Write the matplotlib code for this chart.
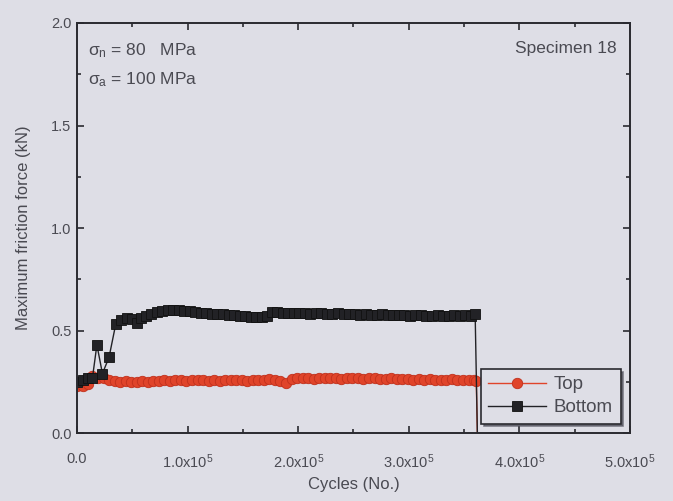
import matplotlib.pyplot as plt
from matplotlib.ticker import MultipleLocator, FuncFormatter

plt.rcParams['font.family'] = ['Liberation Sans', 'DejaVu Sans']
plt.rcParams['mathtext.fontset'] = 'custom'
plt.rcParams['mathtext.rm'] = 'Liberation Sans'
plt.rcParams['mathtext.it'] = 'Liberation Sans'

# Bottom specimen friction force
bottom_cycles = [0, 5000, 10000, 14000, 18000, 23000, 29000, 35000, 40000, 45000,
                 50000, 54000, 58000, 62000, 67000, 72000, 77000, 82000, 87000, 92000,
                 97000, 102000, 107000, 112000, 117000, 122000, 127000, 132000, 137000, 142000,
                 147000, 152000, 157000, 162000, 167000, 172000, 176000, 181000, 186000, 191000,
                 196000, 201000, 206000, 211000, 216000, 221000, 226000, 231000, 236000, 241000,
                 246000, 251000, 256000, 261000, 266000, 271000, 276000, 281000, 286000, 291000,
                 296000, 301000, 306000, 311000, 316000, 321000, 326000, 331000, 336000, 341000,
                 346000, 351000, 356000, 360000, 362000]
bottom_force = [0.25, 0.26, 0.27, 0.27, 0.43, 0.29, 0.37, 0.53, 0.55, 0.56,
                0.555, 0.535, 0.56, 0.57, 0.58, 0.59, 0.595, 0.60, 0.60, 0.60,
                0.595, 0.595, 0.59, 0.585, 0.585, 0.58, 0.58, 0.58, 0.575, 0.575,
                0.57, 0.57, 0.565, 0.565, 0.565, 0.57, 0.59, 0.59, 0.585, 0.585,
                0.585, 0.585, 0.585, 0.58, 0.585, 0.585, 0.58, 0.58, 0.585, 0.58,
                0.58, 0.58, 0.575, 0.58, 0.575, 0.575, 0.58, 0.575, 0.575, 0.575,
                0.575, 0.57, 0.575, 0.575, 0.57, 0.57, 0.575, 0.57, 0.57, 0.575,
                0.57, 0.575, 0.57, 0.58, 0.0]

# Top specimen friction force
top_cycles = [0, 5000, 10000, 14000, 19000, 24000, 29000, 34000, 39000, 44000,
              49000, 54000, 59000, 64000, 69000, 74000, 79000, 84000, 89000, 94000,
              99000, 104000, 109000, 114000, 119000, 124000, 129000, 134000, 139000, 144000,
              149000, 154000, 159000, 164000, 169000, 174000, 179000, 184000, 189000, 194000,
              199000, 204000, 209000, 214000, 219000, 224000, 229000, 234000, 239000, 244000,
              249000, 254000, 259000, 264000, 269000, 274000, 279000, 284000, 289000, 294000,
              299000, 304000, 309000, 314000, 319000, 324000, 329000, 334000, 339000, 344000,
              349000, 354000, 359000, 361000, 362000]
top_force = [0.23, 0.23, 0.24, 0.28, 0.27, 0.27, 0.26, 0.255, 0.25, 0.255,
             0.25, 0.25, 0.255, 0.25, 0.255, 0.255, 0.26, 0.255, 0.26, 0.26,
             0.255, 0.26, 0.26, 0.26, 0.255, 0.26, 0.255, 0.26, 0.26, 0.26,
             0.26, 0.255, 0.26, 0.26, 0.26, 0.265, 0.26, 0.255, 0.245, 0.265,
             0.27, 0.27, 0.27, 0.265, 0.27, 0.27, 0.27, 0.27, 0.265, 0.27,
             0.27, 0.27, 0.265, 0.27, 0.27, 0.265, 0.265, 0.27, 0.265, 0.265,
             0.265, 0.26, 0.265, 0.26, 0.265, 0.26, 0.26, 0.26, 0.265, 0.26,
             0.26, 0.26, 0.26, 0.255, 0.0]

bg = '#dedee6'
ink = '#2a2a30'
txt = '#4a4a52'

fig = plt.figure(figsize=(6.73, 5.01), dpi=100, facecolor=bg)
ax = fig.add_axes([0.1144, 0.1357, 0.8217, 0.8184], facecolor=bg)

# last sample is the drop to zero at failure: line only, no marker
ax.plot(top_cycles, top_force, color='#e0442a', marker='o', markersize=7.5,
        markeredgecolor='#c0301c', markeredgewidth=0.6, linewidth=1.0,
        markevery=slice(0, len(top_cycles) - 1), label='Top')
ax.plot(bottom_cycles, bottom_force, color='#222226', marker='s', markersize=7,
        markeredgecolor='#111111', markeredgewidth=0.6, linewidth=1.0,
        markevery=slice(0, len(bottom_cycles) - 1), label='Bottom')

ax.set_xlim(0, 5e5)
ax.set_ylim(0, 2.0)
ax.xaxis.set_major_locator(MultipleLocator(1e5))
ax.xaxis.set_minor_locator(MultipleLocator(5e4))
ax.yaxis.set_major_locator(MultipleLocator(0.5))
ax.yaxis.set_minor_locator(MultipleLocator(0.25))


def sci_label(v, pos):
    if v == 0:
        return '0.0'
    return '%.1fx10$^{5}$' % (v / 1e5)


ax.xaxis.set_major_formatter(FuncFormatter(sci_label))
ax.yaxis.set_major_formatter(FuncFormatter(lambda v, p: '%.1f' % v))

ax.tick_params(which='both', direction='in', top=True, right=True, colors=ink,
               labelcolor=txt, labelsize=10.5, width=1.2)
ax.tick_params(which='major', length=5)
ax.tick_params(which='minor', length=3)
ax.tick_params(axis='x', which='major', pad=14)
ax.tick_params(axis='y', which='major', pad=4)
for s in ax.spines.values():
    s.set_color(ink)
    s.set_linewidth(1.4)

ax.set_xlabel('Cycles (No.)', fontsize=12, color=txt, labelpad=4)
ax.set_ylabel('Maximum friction force (kN)', fontsize=12, color=txt, labelpad=14)

ax.text(0.02, 0.955, r'$\sigma_{\rm n}$ = 80   MPa', transform=ax.transAxes,
        fontsize=12.5, color=txt, va='top')
ax.text(0.02, 0.885, r'$\sigma_{\rm a}$ = 100 MPa', transform=ax.transAxes,
        fontsize=12.5, color=txt, va='top')
ax.text(0.975, 0.955, 'Specimen 18', transform=ax.transAxes,
        fontsize=12.5, color=txt, va='top', ha='right')

leg = ax.legend(loc='lower right', bbox_to_anchor=(1.0, 0.0), fontsize=13.5,
                frameon=True, fancybox=False, handlelength=3.1,
                borderpad=0.4, labelspacing=0.3, handletextpad=0.4,
                borderaxespad=0.5,
                shadow={'color': '#555560', 'alpha': 0.7})
leg.get_frame().set_facecolor(bg)
leg.get_frame().set_edgecolor(ink)
leg.get_frame().set_linewidth(1.2)
for t in leg.get_texts():
    t.set_color(txt)

fig.savefig('out.png', dpi=100, facecolor=bg)
